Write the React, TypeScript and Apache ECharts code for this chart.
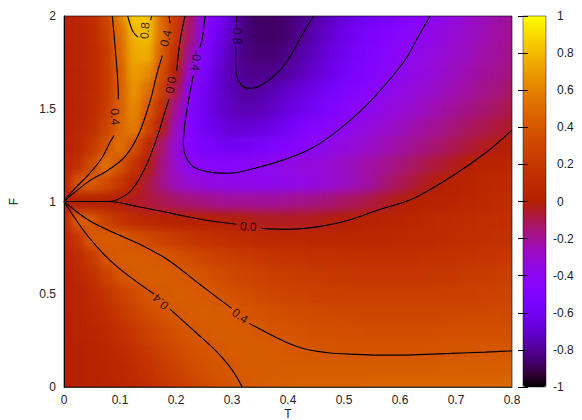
import React, { useEffect, useRef } from "react";
import * as echarts from "echarts";

const tColumns = ["0","0.025","0.05","0.075","0.1","0.125","0.15","0.175","0.2","0.225","0.25","0.275","0.3","0.325","0.35","0.375","0.4","0.425","0.45","0.475","0.5","0.525","0.55","0.575","0.6","0.625","0.65","0.675","0.7","0.725","0.75","0.775","0.8"];
const fRowNames = ["0","0.1","0.2","0.3","0.4","0.5","0.6","0.7","0.8","0.9","1","1.1","1.2","1.3","1.4","1.5","1.6","1.7","1.8","1.9","2"];

const rowF00 = [.01,.02,.03,.04,.06,.09,.13,.18,.23,.28,.32,.36,.39,
  .41,.43,.44,.45,.46,.46,.46,.46,.46,.47,.47,.47,.47,.47,.47,.47,.47,.48,.48,.48];
const rowF01 = [.01,.02,.03,.05,.08,.12,.17,.22,.27,.32,.36,.39,.405,
  .415,.42,.425,.43,.43,.43,.43,.43,.43,.43,.43,.43,.43,.43,.435,.435,.44,.44,.44,.44];
const rowF02 = [.01,.02,.03,.06,.1,.15,.21,.27,.32,.36,.385,.405,.42,
  .425,.425,.42,.41,.4,.39,.385,.38,.38,.38,.38,.38,.38,.385,.385,.39,.39,.395,.395,.4];
const rowF03 = [.01,.03,.05,.09,.14,.2,.27,.32,.365,.395,.415,.42,.42,
  .415,.405,.39,.375,.365,.355,.35,.345,.345,.34,.34,.34,.34,.34,.345,.345,.35,.35,.35,.35];
const rowF04 = [.01,.03,.07,.12,.2,.27,.33,.38,.405,.425,.43,.425,.41,
  .385,.365,.35,.34,.33,.32,.315,.31,.305,.305,.305,.305,.305,.305,.305,.31,.31,.315,.315,.32];
const rowF05 = [.02,.04,.09,.17,.26,.33,.385,.415,.43,.425,.41,.39,.36,
  .335,.315,.3,.285,.275,.265,.26,.255,.25,.25,.25,.25,.25,.25,.255,.26,.265,.27,.28,.29];
const rowF06 = [.03,.06,.14,.26,.37,.415,.43,.43,.42,.4,.37,.335,.31,
  .285,.27,.25,.24,.23,.22,.21,.205,.2,.195,.195,.195,.195,.2,.205,.21,.22,.23,.24,.25];
const rowF07 = [.04,.1,.22,.38,.42,.43,.425,.405,.365,.33,.295,.265,.24,
  .22,.2,.185,.17,.165,.16,.155,.15,.145,.145,.145,.145,.15,.155,.16,.165,.175,.185,.195,.205];
const rowF08 = [.05,.2,.41,.43,.42,.36,.31,.265,.225,.19,.165,.14,.12,
  .105,.09,.08,.07,.07,.065,.065,.07,.07,.075,.08,.085,.095,.1,.11,.12,.13,.14,.15,.16];
const rowF09 = [.08,.42,.4,.27,.17,.11,.07,.04,.02,.01,.005,-.005,-.012,
  -.02,-.035,-.04,-.045,-.04,-.035,-.02,-.01,.01,.025,.04,.055,.07,.085,.095,.105,.115,.125,.135,.145];
const rowF10 = [0,0,0,0,-.01,-.04,-.07,-.1,-.13,-.15,-.17,-.19,-.2,
  -.2,-.2,-.2,-.19,-.18,-.17,-.15,-.13,-.11,-.08,-.05,-.02,.005,.025,.04,.055,.07,.085,.1,.115];
const rowF11 = [.05,.38,.42,.33,.2,.05,-.08,-.18,-.26,-.31,-.34,-.36,-.37,
  -.375,-.38,-.38,-.37,-.36,-.34,-.31,-.28,-.25,-.21,-.15,-.11,-.07,-.035,.005,.03,.05,.07,.09,.105];
const rowF12 = [.03,.15,.33,.52,.38,.18,-.015,-.17,-.3,-.4,-.43,-.45,-.45,
  -.43,-.4,-.38,-.36,-.34,-.33,-.31,-.28,-.25,-.22,-.19,-.16,-.125,-.09,-.06,-.03,0,.025,.045,.07];
const rowF13 = [.02,.08,.2,.37,.52,.36,.1,-.14,-.32,-.46,-.53,-.57,-.59,
  -.58,-.56,-.52,-.48,-.44,-.4,-.37,-.34,-.31,-.28,-.25,-.22,-.19,-.16,-.13,-.1,-.07,-.04,-.015,.01];
const rowF14 = [.015,.05,.13,.27,.47,.58,.3,-.02,-.28,-.48,-.58,-.64,-.68,
  -.68,-.66,-.63,-.59,-.51,-.47,-.43,-.395,-.36,-.33,-.3,-.27,-.24,-.21,-.18,-.15,-.12,-.1,-.07,-.045];
const rowF15 = [.015,.04,.1,.22,.44,.62,.41,.13,-.2,-.45,-.6,-.68,-.73,
  -.75,-.74,-.71,-.66,-.62,-.57,-.52,-.47,-.42,-.38,-.35,-.32,-.29,-.26,-.23,-.2,-.17,-.145,-.12,-.09];
const rowF16 = [.015,.035,.09,.2,.43,.66,.52,.25,-.1,-.42,-.58,-.68,-.75,
  -.79,-.78,-.75,-.71,-.67,-.62,-.57,-.52,-.47,-.43,-.39,-.36,-.33,-.3,-.27,-.24,-.21,-.18,-.16,-.13];
const rowF17 = [.02,.035,.09,.2,.44,.7,.64,.35,-.01,-.32,-.53,-.67,-.76,
  -.81,-.82,-.81,-.78,-.74,-.69,-.63,-.58,-.53,-.48,-.43,-.39,-.36,-.33,-.3,-.27,-.24,-.21,-.19,-.16];
const rowF18 = [.02,.04,.09,.21,.47,.74,.76,.42,.12,-.22,-.48,-.64,-.75,
  -.83,-.85,-.85,-.82,-.77,-.72,-.66,-.61,-.56,-.51,-.46,-.42,-.38,-.35,-.32,-.29,-.26,-.23,-.21,-.18];
const rowF19 = [.025,.045,.1,.24,.5,.78,.82,.5,.2,-.15,-.43,-.6,-.72,
  -.84,-.87,-.87,-.85,-.8,-.75,-.69,-.63,-.58,-.53,-.48,-.44,-.41,-.37,-.34,-.31,-.28,-.25,-.22,-.19];
const rowF20 = [.03,.05,.11,.27,.58,.84,.84,.47,.24,-.12,-.4,-.55,-.7,
  -.84,-.87,-.87,-.85,-.82,-.78,-.72,-.67,-.62,-.58,-.54,-.5,-.46,-.41,-.37,-.33,-.29,-.26,-.23,-.2];

const surfaceRows = [rowF00,rowF01,rowF02,rowF03,rowF04,rowF05,rowF06,rowF07,rowF08,rowF09,rowF10,
  rowF11,rowF12,rowF13,rowF14,rowF15,rowF16,rowF17,rowF18,rowF19,rowF20];

// Contour lines as [T, F] pairs; each array is one stretch between labels.
const upper04LeftA = [[0,1],[.0196,1.071],[.0435,1.143],[.0673,1.233],[.082,1.319],[.0893,1.355]];
const upper04LeftB = [[.097,1.551],[.0964,1.628],[.0935,1.754],[.0893,1.898],[.0863,2]];
const top08A = [[.1137,2],[.1179,1.957],[.1238,1.912],[.1327,1.885]];
const top08B = [[.1565,2],[.1548,1.978]];
const upper04RightA = [[0,1],[.0435,1.107],[.0792,1.17],[.109,1.242],[.1327,1.358],[.1536,1.538],[.1655,1.682],[.1756,1.786]];
const upper04RightB = [[.1875,2],[.1893,1.96]];
const upper00A = [[0,1],[.079,1],[.097,1.012],[.1208,1.062],[.1446,1.179],[.1655,1.34],[.1804,1.484],[.1875,1.551]];
const upper00B = [[.2012,1.705],[.2071,1.862],[.2161,2]];
const minus04A = [[.2518,2],[.2476,1.889],[.243,1.831]];
const minus04B = [[.2309,1.678],[.222,1.538],[.2149,1.394],[.2131,1.305],[.219,1.233],[.2339,1.182],[.2637,1.157],[.2935,1.152],[.341,1.179],[.3946,1.227],[.4423,1.287],[.49,1.385],[.5375,1.511],[.5732,1.628],[.6089,1.763],[.6327,1.889],[.6536,2]];
const minus08A = [[.3083,2],[.3083,1.966]];
const minus08B = [[.3066,1.837],[.3066,1.723],[.3143,1.637],[.332,1.61],[.353,1.628],[.3887,1.718],[.4125,1.826],[.4185,1.862],[.436,1.951],[.4452,2]];
const lower00A = [[0,1],[.079,1],[.1327,.972],[.1923,.936],[.2518,.9],[.3083,.877]];
const lower00B = [[.353,.855],[.3946,.85],[.43,.855],[.472,.873],[.5137,.904],[.561,.954],[.625,1.018],[.6922,1.135],[.7518,1.26],[.8,1.385]];
const lower04UpperA = [[0,1],[.0435,.9],[.0851,.837],[.1327,.774],[.186,.685],[.2399,.559],[.2994,.424]];
const lower04UpperB = [[.3309,.343],[.3649,.289],[.3946,.244],[.4304,.205],[.472,.185],[.52,.176],[.561,.172],[.603,.172],[.645,.176],[.692,.181],[.752,.188],[.8,.195]];
const lower04LowerA = [[0,1],[.0435,.81],[.0911,.658],[.1607,.501]];
const lower04LowerB = [[.1893,.42],[.234,.298],[.2696,.2],[.2935,.119],[.308,.056],[.318,0]];

const contourStretches = [upper04LeftA,upper04LeftB,top08A,top08B,upper04RightA,upper04RightB,upper00A,upper00B,
  minus04A,minus04B,minus08A,minus08B,lower00A,lower00B,lower04UpperA,lower04UpperB,lower04LowerA,lower04LowerB];

// Contour labels: text, T, F, angle along the line.
const labelTexts = ["0.4","0.8","0.4","0.0","-0.4","-0.8","0.0","0.4","0.4"];
const labelT = [.091,.1446,.182,.1905,.2357,.3083,.329,.3143,.1726];
const labelF = [1.457,1.921,1.88,1.628,1.759,1.903,.864,.383,.46];
const labelAngles = [-86,85,78,-100,-96,-90,-4,-36,137];

const xTicks = { min: 0, max: 0.8, step: 0.1 };
const yTicks = { min: 0, max: 2, step: 0.5 };
const colorTicks = { min: -1, max: 1, step: 0.2 };

// gnuplot's default palette
const palette: string[] = [];
for (let i = 0; i <= 40; i++) {
  const x = i / 40;
  const r = Math.sqrt(x);
  const g = x * x * x;
  const b = Math.max(0, Math.sin(2 * Math.PI * x));
  palette.push(`rgb(${Math.round(r * 255)},${Math.round(g * 255)},${Math.round(b * 255)})`);
}

const FONT = "Liberation Sans";
const TEXT = "#222";

export default function App() {
  const heatRef = useRef<HTMLDivElement>(null);
  const topRef = useRef<HTMLDivElement>(null);

  useEffect(() => {
    const heat = echarts.init(heatRef.current!, null, { renderer: "svg" });
    const top = echarts.init(topRef.current!, null, { renderer: "svg" });

    // Edge rows and columns repeat outward so the softening does not fade at the frame.
    const pad = 2;
    const nc = tColumns.length;
    const nr = fRowNames.length;
    const cells: number[][] = [];
    for (let j = -pad; j < nr + pad; j++) {
      for (let i = -pad; i < nc + pad; i++) {
        const rj = Math.min(nr - 1, Math.max(0, j));
        const ci = Math.min(nc - 1, Math.max(0, i));
        cells.push([i + pad, j + pad, surfaceRows[rj][ci]]);
      }
    }
    const cw = 448 / (nc - 1);
    const ch = 371 / (nr - 1);
    heat.setOption({
      animation: false,
      grid: {
        outerBoundsMode: "none",
        left: 60 - cw / 2 - pad * cw,
        top: 60 - ch / 2 - pad * ch,
        width: (nc + 2 * pad) * cw,
        height: (nr + 2 * pad) * ch,
      },
      xAxis: { type: "category", show: false, data: Array.from({ length: nc + 2 * pad }, (_, i) => String(i)) },
      yAxis: { type: "category", show: false, data: Array.from({ length: nr + 2 * pad }, (_, i) => String(i)) },
      visualMap: { show: false, type: "continuous", min: -1, max: 1, dimension: 2, inRange: { color: palette } },
      series: [{ type: "heatmap", data: cells, progressive: 0, silent: true, itemStyle: { borderWidth: 0 } }],
    });

    const tickLabel = { fontFamily: FONT, fontSize: 12, color: TEXT };
    top.setOption({
      animation: false,
      textStyle: { fontFamily: FONT },
      grid: [
        { outerBoundsMode: "none", left: 64, top: 16, width: 448, height: 371, show: true, borderColor: "rgba(0,0,0,0.6)", borderWidth: 1, backgroundColor: "transparent" },
        { outerBoundsMode: "none", left: 523, top: 16, width: 23, height: 371, show: true, borderColor: "rgba(0,0,0,0.45)", borderWidth: 1, backgroundColor: "transparent", z: 9 },
      ],
      xAxis: [
        {
          type: "value", gridIndex: 0, min: xTicks.min, max: xTicks.max, interval: xTicks.step,
          name: "T", nameLocation: "middle", nameGap: 21, nameMoveOverlap: false,
          nameTextStyle: { ...tickLabel },
          splitLine: { show: false }, axisTick: { show: false },
          axisLine: { show: true, lineStyle: { color: "rgba(0,0,0,0.7)", width: 1 } },
          axisLabel: { ...tickLabel, margin: 7, hideOverlap: false, showMinLabel: true, showMaxLabel: true,
            formatter: (v: number) => String(+v.toFixed(1)) },
        },
        { type: "value", gridIndex: 1, min: 0, max: 1, show: false },
      ],
      yAxis: [
        {
          type: "value", gridIndex: 0, min: yTicks.min, max: yTicks.max, interval: yTicks.step,
          name: "F", nameLocation: "middle", nameGap: 44, nameRotate: 90,
          nameTextStyle: { ...tickLabel },
          splitLine: { show: false }, axisTick: { show: false },
          axisLine: { show: true, lineStyle: { color: "#000", width: 1 } },
          axisLabel: { ...tickLabel, margin: 8, showMinLabel: true, showMaxLabel: true,
            formatter: (v: number) => String(+v.toFixed(1)) },
        },
        {
          type: "value", gridIndex: 1, position: "right", min: colorTicks.min, max: colorTicks.max, interval: colorTicks.step, z: 10,
          splitLine: { show: false },
          axisLine: { show: false },
          axisTick: { show: true, inside: true, length: 5, lineStyle: { color: "#000", width: 1 } },
          axisLabel: {
            ...tickLabel, margin: 7, align: "left", showMinLabel: true, showMaxLabel: true,
            formatter: (v: number) => {
              const t = String(+v.toFixed(1));
              return v < -1e-9 ? t : `{p|${t}}`;
            },
            rich: { p: { ...tickLabel, padding: [0, 0, 0, 4] } },
          },
        },
        {
          type: "value", gridIndex: 1, position: "left", min: colorTicks.min, max: colorTicks.max, interval: colorTicks.step, z: 10,
          splitLine: { show: false },
          axisLine: { show: false },
          axisTick: { show: true, inside: true, length: 5, lineStyle: { color: "#000", width: 1 } },
          axisLabel: { show: false },
        },
      ],
      visualMap: {
        type: "continuous", show: true, seriesIndex: [], min: colorTicks.min, max: colorTicks.max,
        left: 523, top: 16, itemWidth: 23, itemHeight: 371, padding: 0, calculable: false, hoverLink: false,
        text: undefined, inRange: { color: palette }, z: 4,
      },
      series: [
        ...contourStretches.map((stretch) => ({
          type: "line", xAxisIndex: 0, yAxisIndex: 0, data: stretch, showSymbol: false, symbol: "none",
          smooth: 0.35, silent: true, lineStyle: { color: "#000", width: 1.1 }, z: 5,
        })),
        {
          type: "scatter", xAxisIndex: 0, yAxisIndex: 0, symbolSize: 1, silent: true, z: 6,
          itemStyle: { color: "transparent" },
          data: labelTexts.map((text, i) => ({
            name: text,
            value: [labelT[i], labelF[i]],
            label: { rotate: labelAngles[i] },
          })),
          label: {
            show: true, position: "inside", formatter: (p: any) => p.name,
            fontFamily: FONT, fontSize: 12, color: "#000",
          },
          labelLayout: { hideOverlap: false },
        },
      ],
    });

    return () => {
      heat.dispose();
      top.dispose();
    };
  }, []);

  return (
    <div style={{ position: "absolute", left: 0, top: 0, width: 582, height: 420, overflow: "hidden", background: "#fff" }}>
      <div style={{ position: "absolute", left: 64, top: 16, width: 448, height: 371, overflow: "hidden" }}>
        <div ref={heatRef} style={{ position: "absolute", left: -60, top: -60, width: 568, height: 491, filter: "blur(4.5px)" }} />
      </div>
      <div ref={topRef} style={{ position: "absolute", left: 0, top: 0, width: 582, height: 420 }} />
    </div>
  );
}
